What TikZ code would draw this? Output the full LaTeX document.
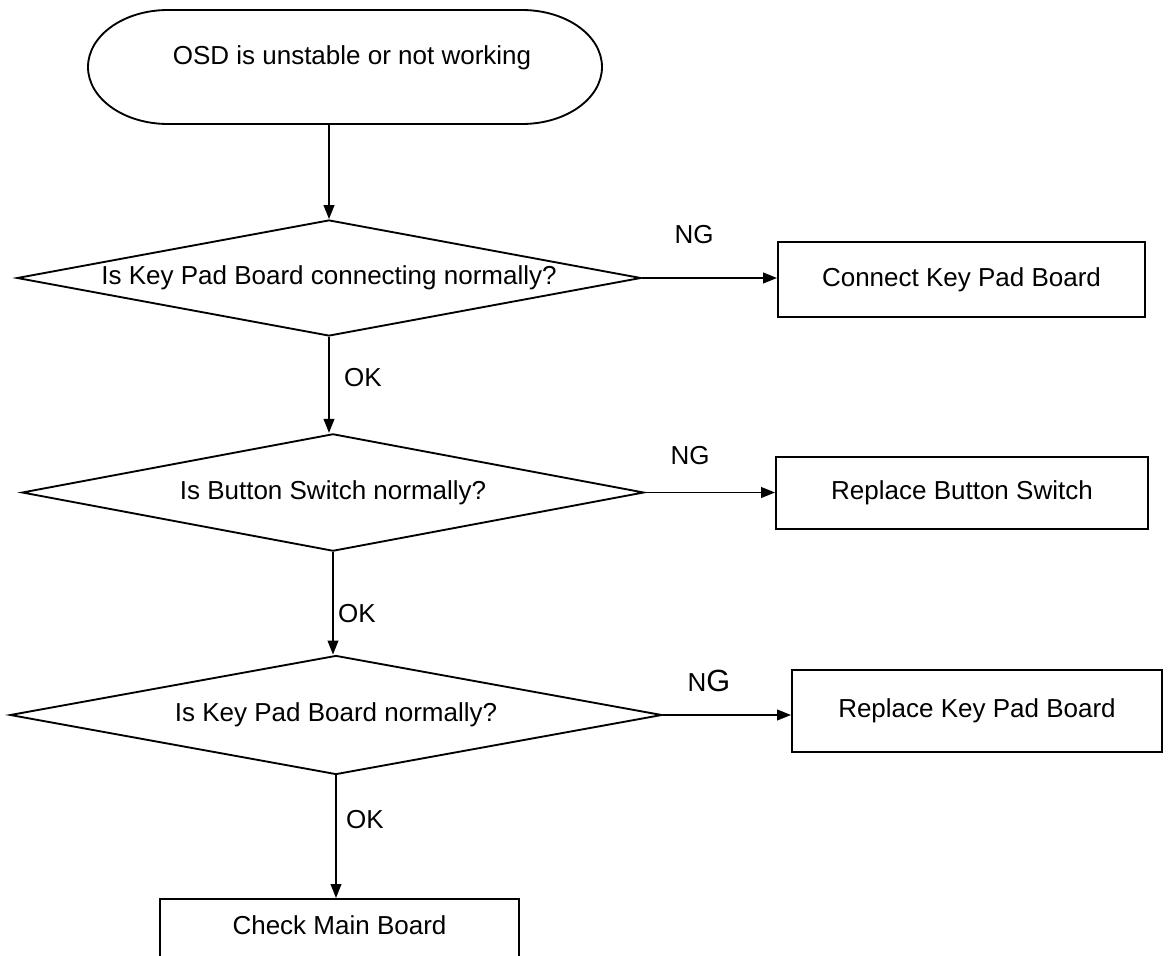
\documentclass[tikz,border=0pt]{standalone}
\usepackage{fontspec}
\setmainfont{Liberation Sans}
\usetikzlibrary{shapes.geometric,arrows.meta}
\begin{document}
\begin{tikzpicture}[x=0.75pt,y=-0.75pt,
  every node/.style={font=\fontsize{19.5pt}{23pt}\selectfont, inner sep=0pt},
  outline/.style={line width=1.4pt},
  decision/.style={draw, line width=1.4pt, shape=diamond, aspect=5.4},
  stepbox/.style={draw, line width=1.4pt, shape=rectangle},
  flow/.style={line width=1.4pt, -{Triangle[length=10.5pt,width=8pt]}}]
\useasboundingbox (0,0) rectangle (1175,956);

% start terminal with elliptical ends
\draw[outline] (168,10) -- (522,10)
  .. controls (566.2,10) and (602,35.5) .. (602,67)
  .. controls (602,98.5) and (566.2,124) .. (522,124)
  -- (168,124)
  .. controls (123.8,124) and (88,98.5) .. (88,67)
  .. controls (88,35.5) and (123.8,10) .. (168,10) -- cycle;
\node (start) at (352,58) {OSD is unstable or not working};
\coordinate (startbot) at (329,124);

% decisions
\node[decision, minimum width=468pt, minimum height=87pt] (d1) at (329,278)
  {Is Key Pad Board connecting normally?};
\node[decision, minimum width=466.5pt, minimum height=88pt] (d2) at (333,492.5)
  {Is Button Switch normally?};
\node[decision, minimum width=489pt, minimum height=89.25pt] (d3) at (336,715)
  {Is Key Pad Board normally?};

% actions
\node[stepbox, minimum width=275.25pt, minimum height=56.25pt] (b1) at (961.5,279.5)
  {Connect Key Pad Board};
\node[stepbox, minimum width=279pt, minimum height=54pt] (b2) at (962,493)
  {Replace Button Switch};
\node[stepbox, minimum width=277.5pt, minimum height=61.5pt] (b3) at (977,711)
  {Replace Key Pad Board};
\node[stepbox, minimum width=269.25pt, minimum height=60pt, anchor=north] (b4) at (339.5,898) {};
\node (b4text) at (339.5,925) {Check Main Board};

% main flow
\draw[flow] (startbot) -- (startbot |- d1.north);
\draw[flow] (d1.south) -- (d1.south |- d2.north);
\draw[flow] (d2.south) -- (d2.south |- d3.north);
\draw[flow] (d3.south) -- (d3.south |- b4.north);

% NG branches
\draw[flow] (d1.east) -- (d1.east -| b1.west);
\draw[flow] (d2.east) -- (d2.east -| b2.west);
\draw[flow] (d3.east) -- (d3.east -| b3.west);

% branch labels
\node (ng1) at (694,235) {NG};
\node (ng2) at (690,456) {NG};
\node (ng3) at (709,681) {N{\fontsize{23pt}{24pt}\selectfont G}};
\node (ok1) at (363,378) {OK};
\node (ok2) at (357,614) {OK};
\node (ok3) at (365,820) {OK};
\end{tikzpicture}
\end{document}
